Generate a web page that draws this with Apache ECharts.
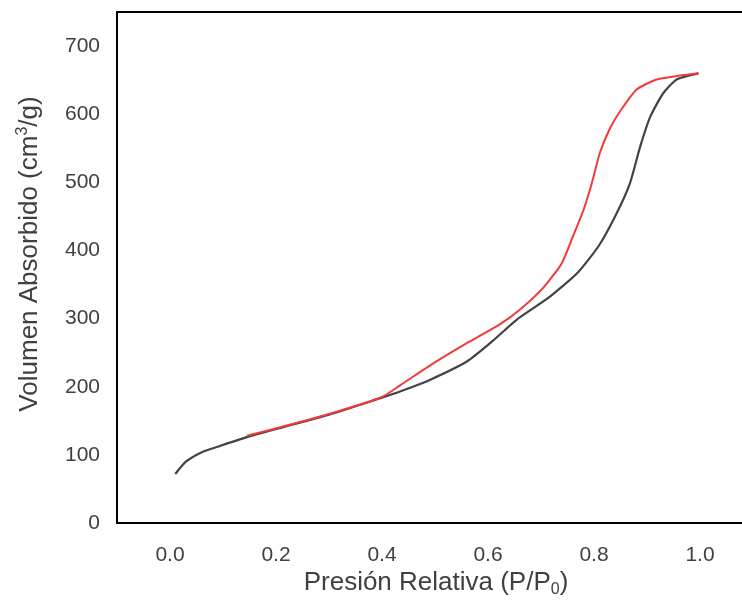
<!DOCTYPE html>
<html>
<head>
<meta charset="utf-8">
<script src="https://cdn.jsdelivr.net/npm/echarts@6/dist/echarts.min.js"></script>
<style>
html,body{margin:0;padding:0;background:#fff;}
#chart{width:742px;height:606px;}
</style>
</head>
<body>
<div id="chart"></div>
<script>
// Adsorption branch (dark line)
const adsP = [0.01, 0.03, 0.06, 0.09, 0.145, 0.21, 0.30, 0.40, 0.434, 0.49, 0.56, 0.61, 0.655, 0.715, 0.77, 0.81, 0.843, 0.868, 0.887, 0.906, 0.93, 0.956, 0.997];
const adsV = [72, 90, 104, 112, 126, 140, 159, 184, 193, 210, 237, 268, 299, 331, 368, 408, 455, 499, 552, 596, 630, 651, 660];
// Desorption branch (red line)
const desP = [0.145, 0.21, 0.30, 0.40, 0.434, 0.496, 0.56, 0.623, 0.66, 0.704, 0.739, 0.761, 0.78, 0.796, 0.811, 0.83, 0.849, 0.88, 0.918, 0.956, 0.997];
const desV = [128, 141, 160, 185, 202, 234, 264, 292, 313, 345, 381, 422, 459, 499, 543, 579, 604, 636, 651, 656, 660];
// Tick labels
const xTicks = [0.0, 0.2, 0.4, 0.6, 0.8, 1.0];
const yTicks = [0, 100, 200, 300, 400, 500, 600, 700];

const toPairs = (xs, ys) => xs.map((x, i) => [x, ys[i]]);

const chart = echarts.init(document.getElementById('chart'), null, {renderer: 'canvas'});
const FONT = '"Liberation Sans", Arial, sans-serif';
chart.setOption({
  animation: false,
  backgroundColor: '#fff',
  grid: {
    left: 117, top: 12, width: 636, height: 511,
    outerBoundsMode: 'none', containLabel: false,
    show: true, borderColor: '#000', borderWidth: 2, backgroundColor: 'transparent'
  },
  xAxis: {
    type: 'value', min: -0.1, max: 1.1,
    axisLine: {show: false}, axisTick: {show: false}, splitLine: {show: false},
    axisLabel: {
      customValues: xTicks, fontFamily: FONT, fontSize: 21, color: '#404040', margin: 22,
      formatter: v => v.toFixed(1)
    }
  },
  yAxis: {
    type: 'value', min: 0, max: 750,
    axisLine: {show: false}, axisTick: {show: false}, splitLine: {show: false},
    axisLabel: {
      customValues: yTicks, fontFamily: FONT, fontSize: 21, color: '#404040', margin: 17
    }
  },
  series: [
    {
      type: 'line', data: toPairs(adsP, adsV), showSymbol: false, smooth: 0.2,
      lineStyle: {color: '#434343', width: 2.2}, z: 2
    },
    {
      type: 'line', data: toPairs(desP, desV), showSymbol: false, smooth: 0.2,
      lineStyle: {color: '#f23a3a', width: 2}, z: 3
    }
  ],
  graphic: [
    {
      type: 'text', x: 436, y: 583,
      style: {
        text: 'Presión Relativa (P/P{sub|0})',
        font: '26px ' + FONT, fill: '#404040', align: 'center', verticalAlign: 'middle',
        lineHeight: 30,
        rich: {sub: {fontSize: 16, lineHeight: 16, verticalAlign: 'bottom', fontFamily: FONT, fill: '#404040'}}
      }
    },
    {
      type: 'text', x: 30, y: 254, rotation: Math.PI / 2,
      style: {
        text: 'Volumen Absorbido (cm{sup|3}/g)',
        font: '26px ' + FONT, fill: '#404040', align: 'center', verticalAlign: 'middle',
        lineHeight: 30,
        rich: {sup: {fontSize: 16, lineHeight: 16, verticalAlign: 'top', fontFamily: FONT, fill: '#404040'}}
      }
    }
  ]
});
</script>
</body>
</html>
